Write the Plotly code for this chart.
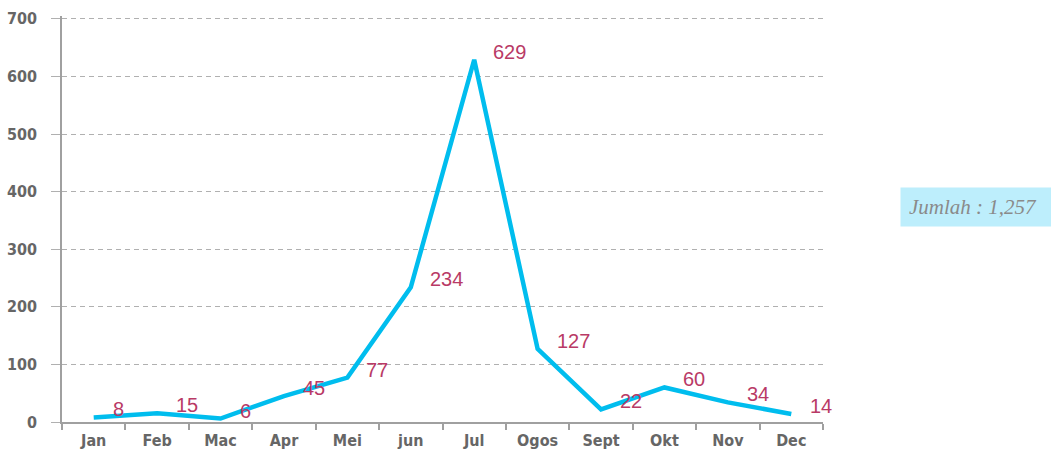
import plotly.graph_objects as go

months = ["Jan", "Feb", "Mac", "Apr", "Mei", "jun", "Jul", "Ogos", "Sept", "Okt", "Nov", "Dec"]
counts = [8, 15, 6, 45, 77, 234, 629, 127, 22, 60, 34, 14]
y_ticks = [0, 100, 200, 300, 400, 500, 600, 700]
total_label = "Jumlah : 1,257"

W, H = 1051, 453
ML, MR, MT, MB = 62, 228, 16, 31

fig = go.Figure()
fig.add_trace(go.Scatter(
    x=months, y=counts, mode="lines",
    line=dict(color="#00bdee", width=4.5),
    hoverinfo="skip", showlegend=False,
))

# value labels beside each point
for m, v in zip(months, counts):
    fig.add_annotation(
        x=m, y=v, text=str(v), showarrow=False,
        xanchor="left", yanchor="middle", xshift=17, yshift=8,
        font=dict(family="Liberation Sans, Arial, sans-serif", size=20, color="#b93a66"),
    )

# total box on the right
plot_w = W - ML - MR
plot_h = H - MT - MB
fig.add_annotation(
    xref="paper", yref="paper",
    x=(900 - ML) / plot_w, y=(H - MB - 207) / plot_h,
    xanchor="left", yanchor="middle",
    text=f"<i>{total_label}</i>", showarrow=False,
    align="left", width=135, height=22, borderpad=8,
    bgcolor="#bdeefc",
    font=dict(family="Liberation Serif, Times New Roman, serif", size=21, color="#8a8a8a"),
)

tick_font = dict(family="DejaVu Sans Condensed, Liberation Sans, sans-serif",
                 size=16, color="#666666", weight="bold")

fig.update_layout(
    width=W, height=H,
    margin=dict(l=ML, r=MR, t=MT, b=MB, autoexpand=False),
    paper_bgcolor="white", plot_bgcolor="white",
    xaxis=dict(
        type="category", categoryorder="array", categoryarray=months,
        range=[-0.5, len(months) - 0.5], automargin=False,
        showline=True, linecolor="#a0a0a0", linewidth=1.5,
        ticks="outside", tickson="boundaries", ticklen=6, tickcolor="#a0a0a0", tickwidth=1.5,
        showgrid=False, zeroline=False,
        tickfont=tick_font, ticklabelstandoff=3,
    ),
    yaxis=dict(
        range=[0, 705], tickvals=y_ticks, automargin=False,
        showline=True, linecolor="#a0a0a0", linewidth=1.5,
        ticks="outside", ticklen=9, tickcolor="#b0b0b0", tickwidth=1,
        showgrid=True, gridcolor="#b0b0b0", griddash="5px,4px", gridwidth=1,
        zeroline=False,
        tickfont=tick_font, ticklabelstandoff=11,
    ),
)

fig.write_html("out.html")
